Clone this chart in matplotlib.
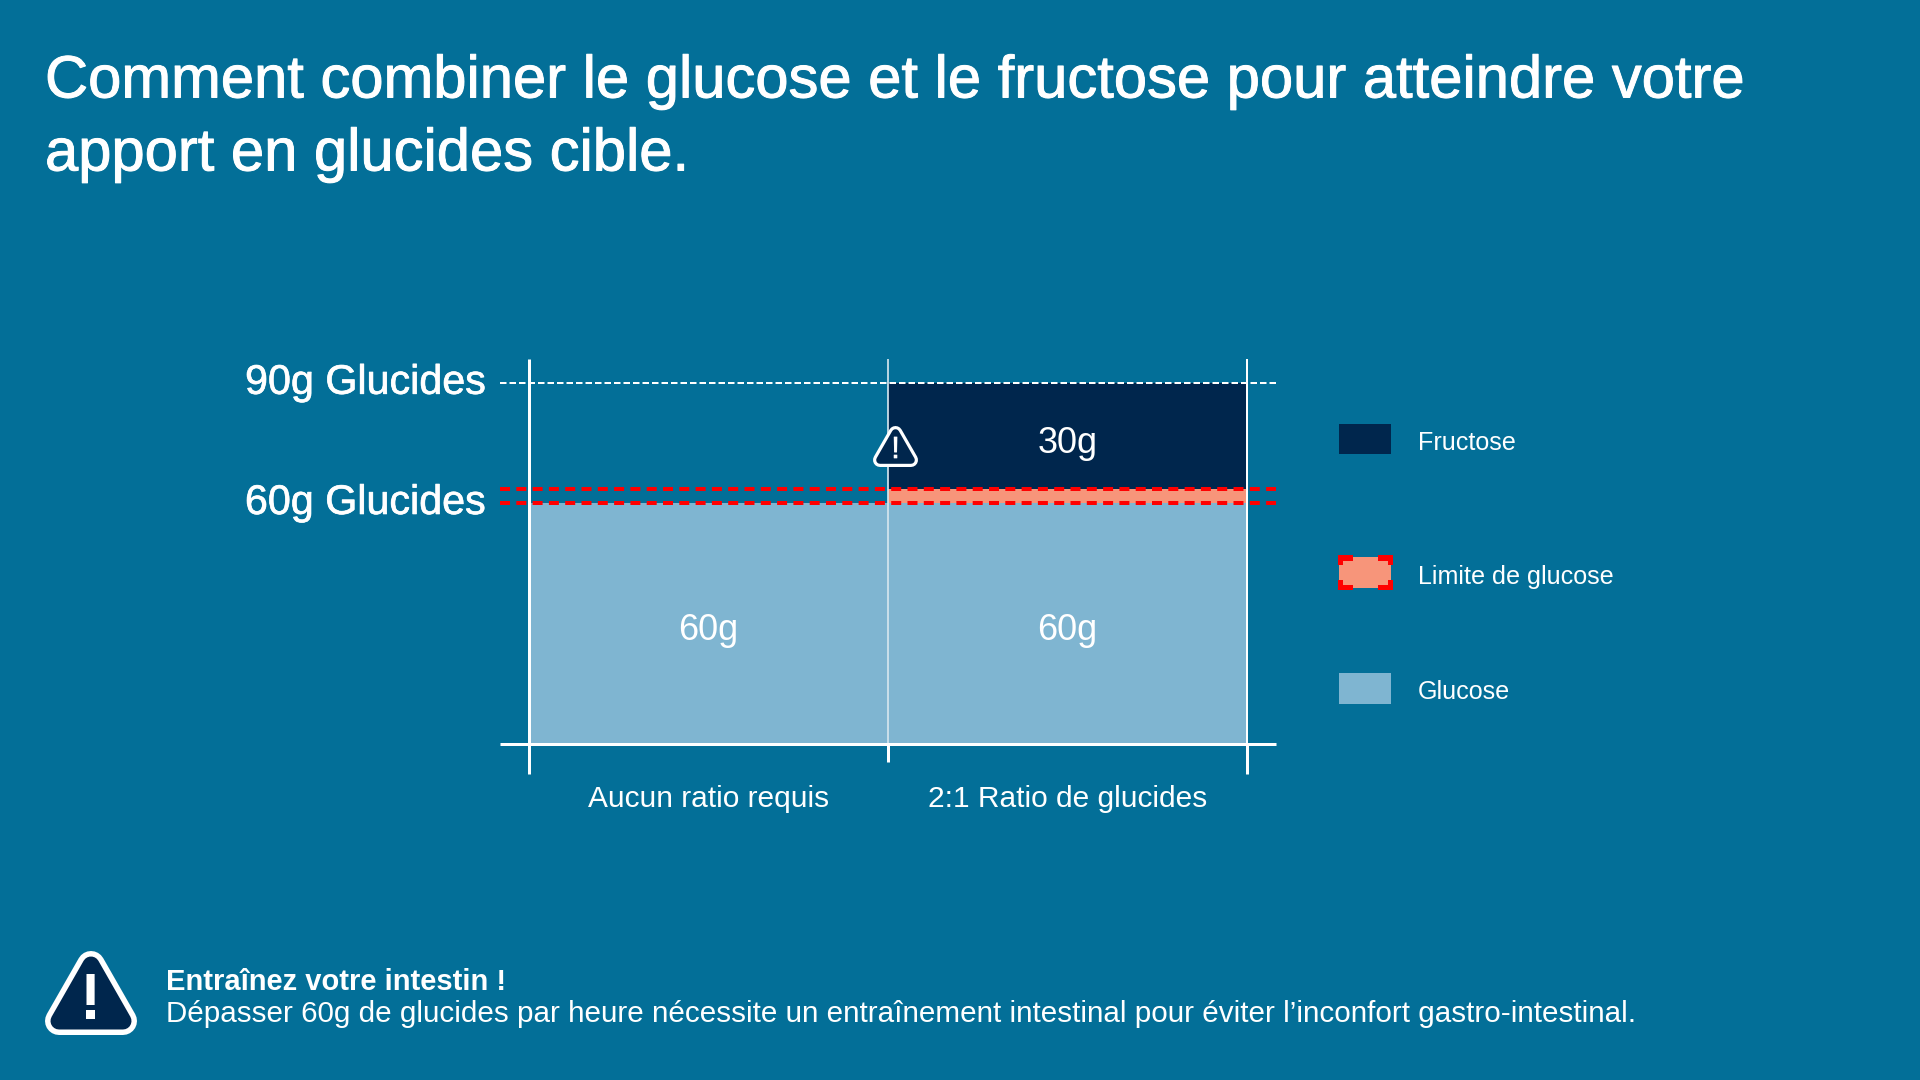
import matplotlib
matplotlib.use("Agg")
import matplotlib.pyplot as plt
import matplotlib.patheffects as pe
from matplotlib.patches import Polygon, Rectangle

plt.rcParams['lines.scale_dashes'] = False
plt.rcParams['font.family'] = ['Liberation Sans', 'DejaVu Sans']

# data
categories = ["Aucun ratio requis", "2:1 Ratio de glucides"]
glucose = [60, 60]
limit_band = [0, 3.5]
fructose = [0, 30]
glucose_labels = ["60g", "60g"]
fructose_labels = ["", "30g"]
ref_levels = [90, 60]
ref_labels = ["90g Glucides", "60g Glucides"]
limit_top = 63.5
title_lines = ["Comment combiner le glucose et le fructose pour atteindre votre",
               "apport en glucides cible."]
note_head = "Entraînez votre intestin !"
note_body = "Dépasser 60g de glucides par heure nécessite un entraînement intestinal pour éviter l’inconfort gastro-intestinal."
legend_names = ["Fructose", "Limite de glucose", "Glucose"]

BG = "#036F98"; NAVY = "#00264D"; LIGHT = "#7FB5D1"; SALMON = "#F7957A"; RED = "#FF0000"; W = "#FFFFFF"
W_, H_ = 1920, 1080
px = 0.72

fig = plt.figure(figsize=(19.2, 10.8), dpi=100, facecolor=BG)

def axes_px(l, t, r, b):
    return fig.add_axes([l / W_, 1 - b / H_, (r - l) / W_, (b - t) / H_])

def heavy(lw):
    return [pe.withStroke(linewidth=lw, foreground=W)]

ax = axes_px(529, 383, 1247, 743.5)
ax.set_xlim(-0.5, 1.5)
ax.set_ylim(0, 90)
ax.axis("off")

x = range(len(categories))
ax.bar(x, fructose, 1, bottom=glucose, color=NAVY, linewidth=0, zorder=2)
ax.bar(x, limit_band, 1, bottom=glucose, color=SALMON, linewidth=0, zorder=3)
ax.bar(x, glucose, 1, color=LIGHT, linewidth=0, zorder=2)

xext = (-0.58, 1.58)
ax.plot(xext, [90, 90], color=W, lw=2 * px, ls=(0, (6.5 * px, 3 * px)), clip_on=False, zorder=5)
for yv in [60, limit_top]:
    ax.plot(xext, [yv, yv], color=RED, lw=4 * px, ls=(0, (10 * px, 6.3 * px)), clip_on=False, zorder=6)
ax.plot(xext, [0, 0], color=W, lw=3 * px, clip_on=False, zorder=7, solid_capstyle="butt")
ax.plot([-0.5, -0.5], [-7.6, 96], color=W, lw=3 * px, clip_on=False, zorder=7, solid_capstyle="butt")
ax.plot([0.5, 0.5], [0, 96], color="#D5E6EE", lw=1.7 * px, clip_on=False, zorder=4, solid_capstyle="butt")
ax.plot([1.5, 1.5], [0, 96], color=W, lw=2 * px, clip_on=False, zorder=4, solid_capstyle="butt")
ax.plot([0.5, 0.5], [-4.6, 0], color=W, lw=3 * px, clip_on=False, zorder=7, solid_capstyle="butt")
ax.plot([1.5, 1.5], [-7.6, 0], color=W, lw=3 * px, clip_on=False, zorder=7, solid_capstyle="butt")

for i, c in enumerate(categories):
    ax.text(i, -13.75, c, color=W, fontsize=21.5, ha="center", va="center", clip_on=False)
    ax.text(i, 28.3, glucose_labels[i], color=W, fontsize=26, ha="center", va="center")
    if fructose_labels[i]:
        ax.text(i, 74.9, fructose_labels[i], color=W, fontsize=26, ha="center", va="center", zorder=8)

for yv, lab in zip(ref_levels, ref_labels):
    ax.text(-0.62, yv + 0.05, lab, color=W, fontsize=29.7, ha="right", va="center", clip_on=False,
            path_effects=heavy(0.5))

ov = fig.add_axes([0, 0, 1, 1], facecolor="none")
ov.set_xlim(0, W_); ov.set_ylim(H_, 0); ov.axis("off")

def icon(l, t, r, b, stroke, inset, zorder=9):
    cx = (l + r) / 2
    pts = [(cx, t + stroke), (r - stroke, b - stroke), (l + stroke, b - stroke)]
    ov.add_patch(Polygon(pts, closed=True, fc=W, ec=W, lw=2 * stroke * px, joinstyle="round", zorder=zorder))
    ov.add_patch(Polygon(pts, closed=True, fc=NAVY, ec=NAVY, lw=2 * (stroke - inset) * px, joinstyle="round", zorder=zorder + 0.1))

icon(873, 426, 918, 467, 7, 3.2)
ov.text(895.5, 450, "!", color=W, fontsize=22, ha="center", va="center", zorder=10, path_effects=heavy(0.5))
icon(45, 951, 137, 1035, 14, 5.5)
ov.text(90.5, 1002, "!", color=W, fontsize=46, fontweight="bold", ha="center", va="center", zorder=10)

ov.text(45, 82, title_lines[0], color=W, fontsize=43, ha="left", va="center", path_effects=heavy(0.7))
ov.text(45, 155, title_lines[1], color=W, fontsize=43, ha="left", va="center", path_effects=heavy(0.7))
ov.text(166, 981.5, note_head, color=W, fontsize=21, fontweight="bold", ha="left", va="center")
ov.text(166, 1014.5, note_body, color=W, fontsize=21.35, ha="left", va="center")

# legend
swatches = [(424, 454, NAVY), (557, 588, SALMON), (673, 704, LIGHT)]
tys = [443.5, 577, 692]
for (t, b, col), name, ty in zip(swatches, legend_names, tys):
    ov.add_patch(Rectangle((1339, t), 52, b - t, fc=col, ec="none", zorder=3))
    ov.text(1418, ty, name, color=W, fontsize=18.1, ha="left", va="center")
# red corner brackets of the limit swatch
ol, or_, ot, ob = 1337.7, 1393, 555.3, 590.3
thick, hlen, vlen = 5.2, 15, 10
for xs, sx in ((ol, 0), (or_, 1)):
    for ys, sy in ((ot, 0), (ob, 1)):
        ov.add_patch(Rectangle((xs - sx * hlen, ys - sy * thick), hlen, thick, fc=RED, ec="none", zorder=4))
        ov.add_patch(Rectangle((xs - sx * thick, ys - sy * vlen), thick, vlen, fc=RED, ec="none", zorder=4))

fig.savefig("out.png", dpi=100, facecolor=BG)
